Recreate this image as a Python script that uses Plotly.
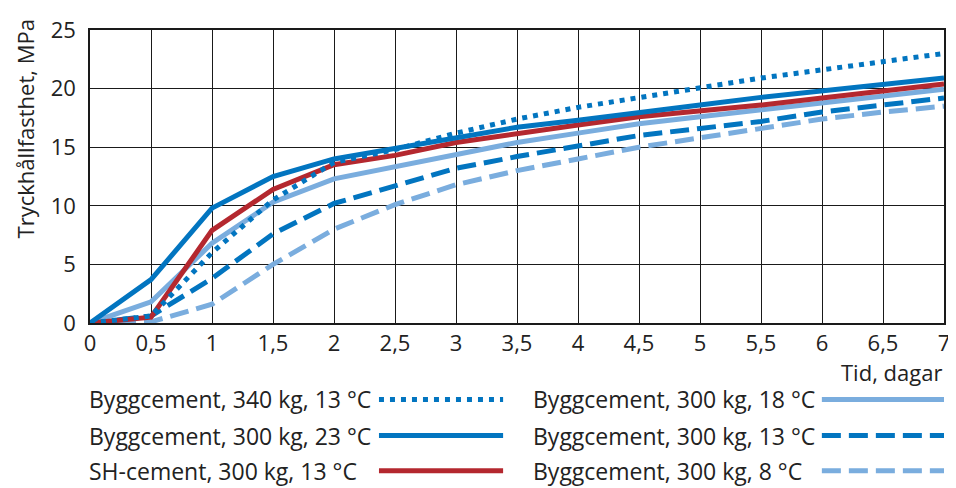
import plotly.graph_objects as go

days = [0, 0.5, 1, 1.5, 2, 2.5, 3, 3.5, 4, 4.5, 5, 5.5, 6, 6.5, 7]
x_tick_vals = [0, 0.5, 1, 1.5, 2, 2.5, 3, 3.5, 4, 4.5, 5, 5.5, 6, 6.5, 7]
x_tick_text = ["0", "0,5", "1", "1,5", "2", "2,5", "3", "3,5", "4", "4,5", "5", "5,5", "6", "6,5", "7"]
y_tick_vals = [0, 5, 10, 15, 20, 25]

names = [
    "Byggcement, 340 kg, 13 °C",
    "Byggcement, 300 kg, 23 °C",
    "SH-cement, 300 kg, 13 °C",
    "Byggcement, 300 kg, 18 °C",
    "Byggcement, 300 kg, 13 °C",
    "Byggcement, 300 kg, 8 °C",
]
bygg340_13 = [0, 0.6, 6.0, 10.5, 13.7, 14.8, 16.2, 17.4, 18.4, 19.25, 20.1, 20.9, 21.6, 22.3, 23.0]
bygg300_23 = [0, 3.7, 9.8, 12.5, 14.0, 14.9, 15.9, 16.7, 17.3, 18.0, 18.6, 19.25, 19.8, 20.4, 20.9]
sh300_13 = [0, 0.5, 7.9, 11.4, 13.5, 14.3, 15.4, 16.2, 16.9, 17.6, 18.05, 18.6, 19.2, 19.8, 20.4]
bygg300_18 = [0, 1.8, 6.8, 10.3, 12.3, 13.3, 14.4, 15.4, 16.2, 17.0, 17.6, 18.2, 18.8, 19.4, 19.95]
bygg300_13 = [0, 0.6, 3.8, 7.6, 10.2, 11.7, 13.2, 14.2, 15.1, 16.0, 16.6, 17.2, 18.0, 18.6, 19.2]
bygg300_8 = [0, 0.1, 1.6, 5.0, 8.0, 10.1, 11.8, 13.0, 14.0, 15.0, 15.8, 16.6, 17.4, 18.0, 18.5]

DARK = "#0275C0"
RED = "#B4282F"
LIGHT = "#7AADDE"
DOT = "5px,6px"
DASH = "19px,8px"
FONT = "Open Sans"
TXT = "#222222"
FS = 22
LFS = 23

series = [
    (names[5], bygg300_8, LIGHT, DASH),
    (names[4], bygg300_13, DARK, DASH),
    (names[3], bygg300_18, LIGHT, "solid"),
    (names[2], sh300_13, RED, "solid"),
    (names[0], bygg340_13, DARK, DOT),
    (names[1], bygg300_23, DARK, "solid"),
]

fig = go.Figure()
for name, vals, color, dash in series:
    fig.add_trace(go.Scatter(x=days, y=vals, mode="lines", name=name,
                             line=dict(color=color, width=5, dash=dash),
                             showlegend=False, hoverinfo="skip"))

# page body has an 8px margin; plot area sits at screen x 90..950, y 22.7..322.7
PL, PR, PT, PB = 90.0, 950.0, 22.7, 322.7


def px(X):
    return (X - PL) / (PR - PL)


def py(Y):
    return (PB - Y) / (PB - PT)


legend_items = [
    (names[0], DARK, DOT), (names[1], DARK, "solid"), (names[2], RED, "solid"),
    (names[3], LIGHT, "solid"), (names[4], DARK, DASH), (names[5], LIGHT, DASH),
]
row_y = [401, 438, 474]
cols = [(87, 381, 506), (534, 827, 950)]
shapes = []
annotations = []
for i, (name, color, dash) in enumerate(legend_items):
    col = cols[i // 3]
    y = row_y[i % 3]
    annotations.append(dict(x=px(col[0]), y=py(y), xref="paper", yref="paper", text=name,
                            showarrow=False, xanchor="left", yanchor="middle",
                            font=dict(family=FONT, size=LFS, color=TXT)))
    shapes.append(dict(type="line", xref="paper", yref="paper",
                       x0=px(col[1]), x1=px(col[2]), y0=py(y), y1=py(y),
                       line=dict(color=color, width=5, dash=dash)))

annotations.append(dict(x=px(950), y=py(373), xref="paper", yref="paper", text="Tid, dagar",
                        showarrow=False, xanchor="right", yanchor="middle",
                        font=dict(family=FONT, size=FS, color=TXT)))
annotations.append(dict(x=px(24), y=py(124), xref="paper", yref="paper", text="Tryckhållfasthet, MPa",
                        showarrow=False, textangle=-90, xanchor="center", yanchor="middle",
                        font=dict(family=FONT, size=FS, color=TXT)))

fig.update_layout(
    width=948, height=480,
    margin=dict(l=82, r=6, t=15, b=165, pad=0),
    paper_bgcolor="white", plot_bgcolor="white",
    font=dict(family=FONT, size=FS, color=TXT),
    shapes=shapes, annotations=annotations,
    showlegend=False,
)
fig.update_xaxes(range=[0, 7], tickvals=x_tick_vals, ticktext=x_tick_text,
                 showgrid=True, gridcolor="#1a1a1a", gridwidth=1.4,
                 showline=True, linecolor="#1a1a1a", linewidth=1.6, mirror=True,
                 zeroline=False, ticks="", ticklen=0, ticklabeloverflow="allow",
                 tickfont=dict(size=FS, color=TXT))
fig.update_yaxes(range=[0, 25], tickvals=y_tick_vals,
                 showgrid=True, gridcolor="#1a1a1a", gridwidth=1.4,
                 showline=True, linecolor="#1a1a1a", linewidth=1.6, mirror=True,
                 zeroline=False, ticks="", ticklen=0, ticklabelstandoff=8,
                 ticklabeloverflow="allow",
                 tickfont=dict(size=FS, color=TXT))

fig.write_html("out.html")
